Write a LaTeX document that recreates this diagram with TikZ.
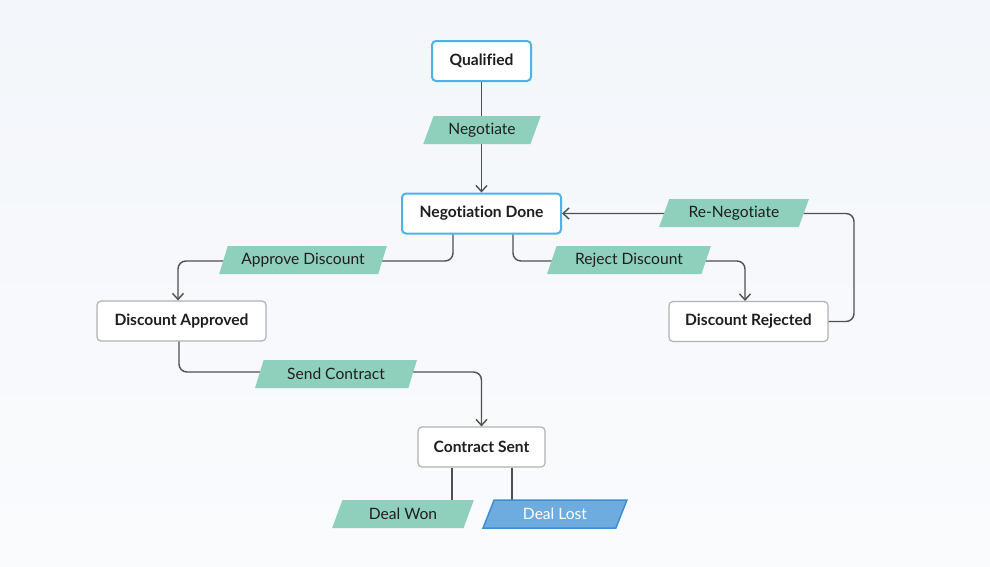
\documentclass[tikz,border=0pt]{standalone}
\usepackage{fontspec}
\setmainfont[Ligatures={NoCommon}]{Lato}
\usetikzlibrary{arrows.meta,shapes.geometric}
\definecolor{bgtop}{RGB}{243,246,250}
\definecolor{bgbot}{RGB}{250,251,253}
\definecolor{blueedge}{RGB}{77,178,230}
\definecolor{grayedge}{RGB}{178,178,178}
\definecolor{labgreen}{RGB}{143,208,189}
\definecolor{lostfill}{RGB}{110,172,224}
\definecolor{lostedge}{RGB}{62,142,212}
\definecolor{wire}{RGB}{80,80,80}
\definecolor{txt}{RGB}{30,30,30}
\tikzset{
  x=1pt,y=-1pt,
  state/.style={draw=grayedge,line width=1.2pt,fill=white,rounded corners=4pt,
    minimum height=40pt,inner sep=0pt,font=\fontsize{15.6}{18}\selectfont\bfseries,text=txt},
  keystate/.style={state,draw=blueedge,line width=2pt},
  tag/.style={trapezium,trapezium left angle=63.4,trapezium right angle=116.6,
    trapezium stretches=true,fill=labgreen,minimum height=28pt,inner sep=0pt,
    font=\fontsize{15.6}{18}\selectfont,text=txt},
  losttag/.style={tag,fill=lostfill,draw=lostedge,line width=1.5pt,text=white},
  wirestyle/.style={draw=wire,line width=1.4pt,rounded corners=8pt},
  arr/.style={wirestyle,-{Straight Barb[length=6pt,width=11pt]}},
}
\begin{document}
\begin{tikzpicture}
\shade[top color=bgtop,bottom color=bgbot] (0,0) rectangle (990,566);
\useasboundingbox (0,0) rectangle (990,566);
% states
\node[keystate,minimum width=99pt] (q) at (481.5,61) {Qualified};
\node[keystate,minimum width=159pt] (nd) at (481.5,213.5) {Negotiation Done};
\node[state,minimum width=169pt] (da) at (181.5,321) {Discount Approved};
\node[state,minimum width=159pt] (dr) at (748.5,321.5) {Discount Rejected};
\node[state,minimum width=127pt] (cs) at (481.5,447) {Contract Sent};
% connectors
\coordinate (won) at (452,500);
\coordinate (lost) at (512,500);
\draw[arr] (q) -- (nd);
\draw[arr] (nd.south -| 453,0) |- (300,261) -| (da.north -| 178,0);
\draw[arr] (nd.south -| 513,0) |- (650,261) -| (dr.north -| 745,0);
\draw[arr] (dr.east) -- (854,321.5) |- (nd.east);
\draw[arr] (da.south -| 179,0) |- (340,372) -| (cs.north);
\draw[wirestyle] (cs.south -| won) -- (won);
\draw[wirestyle] (cs.south -| lost) -- (lost);
% labels
\node[tag,minimum width=118pt] (lneg) at (482,130) {Negotiate};
\node[tag,minimum width=168pt] (lapp) at (303,260) {Approve Discount};
\node[tag,minimum width=164pt] (lrej) at (629,260) {Reject Discount};
\node[tag,minimum width=150pt] (lren) at (734,213) {Re-Negotiate};
\node[tag,minimum width=162pt] (lsend) at (336,374) {Send Contract};
\node[tag,minimum width=142pt] (lwon) at (403,514) {Deal Won};
\node[losttag,minimum width=144pt] (llost) at (555,514) {Deal Lost};
\end{tikzpicture}
\end{document}
